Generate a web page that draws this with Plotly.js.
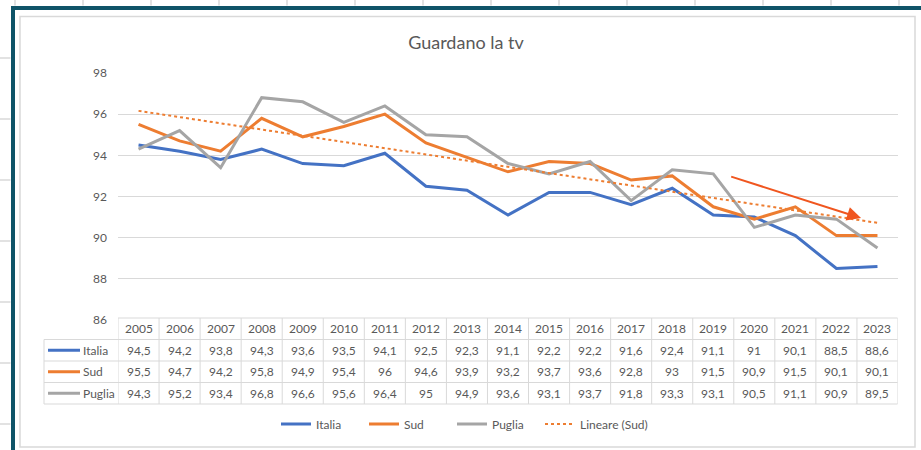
<!DOCTYPE html>
<html>
<head>
<meta charset="utf-8">
<script src="https://cdn.plot.ly/plotly-3.0.1.min.js"></script>
<style>html,body{margin:0;padding:0;background:#fff;}#chart{width:921px;height:450px;}</style>
</head>
<body>
<div id="chart"></div>
<script>
// ---- data ----
const years = ['2005','2006','2007','2008','2009','2010','2011','2012','2013','2014','2015','2016','2017','2018','2019','2020','2021','2022','2023'];
const italia = [94.5,94.2,93.8,94.3,93.6,93.5,94.1,92.5,92.3,91.1,92.2,92.2,91.6,92.4,91.1,91,90.1,88.5,88.6];
const sud    = [95.5,94.7,94.2,95.8,94.9,95.4,96,94.6,93.9,93.2,93.7,93.6,92.8,93,91.5,90.9,91.5,90.1,90.1];
const puglia = [94.3,95.2,93.4,96.8,96.6,95.6,96.4,95,94.9,93.6,93.1,93.7,91.8,93.3,93.1,90.5,91.1,90.9,89.5];
const trendYears = ['2005','2023'];
const trendSud = [96.16,90.72];
const seriesNames = ['Italia','Sud','Puglia'];
const yTicks = [86,88,90,92,94,96,98];

// ---- styling / layout helpers ----
const colors = ['#4472C4','#ED7D31','#A5A5A5'];
const txt = '#595959';
const grid = '#D9D9D9';
const FONT = 'Lato, "Open Sans", sans-serif';
const W = 921, H = 450;
const L = 118, R = 23, T = 73, B = 130;
const PW = W - L - R, PH = H - T - B;
const px = v => (v - L) / PW;          // pixel x -> paper
const py = v => (H - B - v) / PH;      // pixel y -> paper

const seriesData = [italia, sud, puglia];
const traces = seriesData.map((d, i) => ({
  type: 'scatter', mode: 'lines', name: seriesNames[i], x: years, y: d,
  line: {color: colors[i], width: 3}, legend: 'legend'
}));
traces.push({
  type: 'scatter', mode: 'lines', name: 'Lineare (Sud)', x: trendYears, y: trendSud,
  line: {color: '#ED7D31', width: 2, dash: 'dot'}, legend: 'legend2'
});

const shapes = [];
const annotations = [];
const line = (x0, y0, x1, y1, color, width, xref) => shapes.push({
  type: 'line', xref: xref || 'paper', yref: 'paper', x0, y0, x1, y1,
  line: {color, width}, layer: 'above'
});

// table geometry (pixels)
const rowTop = [318, 339.5, 361, 382.5, 404];
const keyLeft = 44;
// horizontal lines
line(px(118), py(rowTop[0]), px(897.5), py(rowTop[0]), grid, 1);
for (let r = 1; r < rowTop.length; r++) line(px(keyLeft), py(rowTop[r]), px(897.5), py(rowTop[r]), grid, 1);
// vertical lines
for (let i = 0; i <= years.length; i++) {
  shapes.push({type: 'line', xref: 'x', yref: 'paper', x0: i - 0.5, x1: i - 0.5,
    y0: py(rowTop[0]), y1: py(rowTop[4]), line: {color: grid, width: 1}, layer: 'above'});
}
line(px(keyLeft), py(rowTop[1]), px(keyLeft), py(rowTop[4]), grid, 1);

// header years
years.forEach((yr, i) => annotations.push({
  xref: 'x', yref: 'paper', x: i, y: py((rowTop[0] + rowTop[1]) / 2),
  text: yr, showarrow: false, font: {family: FONT, size: 12, color: txt}, xanchor: 'center', yanchor: 'middle'
}));
// rows
seriesData.forEach((d, r) => {
  const cy = (rowTop[r + 1] + rowTop[r + 2]) / 2;
  line(px(48), py(cy), px(80), py(cy), colors[r], 3);
  annotations.push({xref: 'paper', yref: 'paper', x: px(81), y: py(cy), text: seriesNames[r],
    showarrow: false, xanchor: 'left', yanchor: 'middle', font: {family: FONT, size: 12, color: txt}});
  d.forEach((v, i) => annotations.push({
    xref: 'x', yref: 'paper', x: i, y: py(cy), text: String(v).replace('.', ','),
    showarrow: false, xanchor: 'center', yanchor: 'middle', font: {family: FONT, size: 12, color: txt}
  }));
});

// red arrow annotation
annotations.push({
  xref: 'x', yref: 'y', axref: 'x', ayref: 'y',
  x: 17.6, y: 90.95, ax: 14.4, ay: 92.99, text: '', showarrow: true,
  arrowhead: 2, arrowsize: 1.4, arrowwidth: 2, arrowcolor: '#F0561F'
});

// frame: chart border, dark selection frame, sheet cell lines
shapes.push({type: 'rect', xref: 'paper', yref: 'paper', x0: px(20), x1: px(915), y0: py(16.5), y1: py(447),
  line: {color: '#D9D9D9', width: 1.5}, layer: 'below'});
for (let x = 15; x < W; x += 68) line(px(x), py(0), px(x), py(5.5), '#E2E2E2', 2);
for (let y = 58; y < H; y += 61) line(px(0), py(y), px(10.5), py(y), '#E2E2E2', 2);
line(px(13), py(8), px(921), py(8), '#0F5468', 4);
line(px(13), py(6), px(13), py(450), '#0F5468', 4);

const legendBase = {orientation: 'h', xref: 'container', yref: 'container', xanchor: 'left',
  y: 1 - 424 / H, yanchor: 'middle', font: {family: FONT, size: 12, color: txt}, bgcolor: 'rgba(0,0,0,0)'};

const layout = {
  width: W, height: H,
  margin: {l: L, r: R, t: T, b: B, pad: 0},
  paper_bgcolor: '#fff', plot_bgcolor: '#fff',
  font: {family: FONT, color: txt, size: 12},
  title: {text: 'Guardano la tv', x: 466 / W, xanchor: 'center', y: 1 - 43 / H, yanchor: 'middle',
    font: {family: FONT, size: 18, color: txt}},
  xaxis: {type: 'category', range: [-0.5, years.length - 0.5], showticklabels: false, showgrid: false,
    zeroline: false, showline: false, ticks: '', fixedrange: true},
  yaxis: {range: [86, 98], tickvals: yTicks, ticktext: yTicks.map(String), showgrid: true, gridcolor: grid,
    gridwidth: 1, zeroline: false, showline: false, ticks: '', ticklabelstandoff: 10,
    tickfont: {family: FONT, size: 12, color: txt}},
  showlegend: true,
  legend: Object.assign({}, legendBase, {x: 276 / W, entrywidth: 43, entrywidthmode: 'pixels'}),
  legend2: Object.assign({}, legendBase, {x: 540 / W}),
  shapes, annotations
};

Plotly.newPlot('chart', traces, layout, {displayModeBar: false, staticPlot: true});
</script>
</body>
</html>
